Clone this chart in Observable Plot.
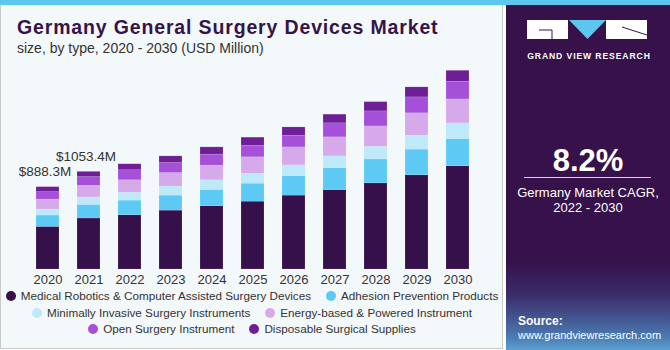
<!DOCTYPE html>
<html>
<head>
<meta charset="utf-8">
<script src="https://cdn.jsdelivr.net/npm/d3@7"></script>
<script src="https://cdn.jsdelivr.net/npm/@observablehq/plot@0.6"></script>
<style>
  body { margin:0; width:670px; height:350px; overflow:hidden; background:#fff; font-family:"Liberation Sans", Arial, sans-serif; position:relative; }
  #left { position:absolute; left:0; top:0; width:501px; height:348px; background:#f3f8fb; border:1px solid #c9c9c9; border-top:none; }
  #strip { position:absolute; left:0; top:0; width:670px; height:5px; background:#5dc6ef; }
  #title { position:absolute; left:17px; top:16px; font-size:19.5px; letter-spacing:0.85px; font-weight:bold; color:#36134a; white-space:nowrap; }
  #subtitle { position:absolute; left:17px; top:40px; font-size:14px; color:#333; white-space:nowrap; }
  #chart { position:absolute; left:0; top:60px; }
  #legend { position:absolute; left:-8px; top:289px; width:520px; display:flex; flex-wrap:wrap; justify-content:center; column-gap:15px; row-gap:2.5px; font-size:11.7px; color:#333; line-height:14px; }
  .item { display:flex; align-items:center; white-space:nowrap; }
  .dot { width:10px; height:10px; border-radius:50%; margin-right:5px; display:inline-block; }
  #right { position:absolute; left:506px; top:5px; width:164px; height:345px; background:linear-gradient(to bottom,#36114a 0%,#36114a 74%,#3b2b6a 84%,#4a78b0 96%,#5aa0d0 100%); color:#fff; }
  #cagr { position:absolute; left:0; width:164px; top:138px; text-align:center; font-size:31px; font-weight:bold; }
  #rule { position:absolute; left:18px; width:127px; top:172px; height:1px; background:#d8cfe0; }
  #cagrtxt { position:absolute; left:0; width:164px; top:180px; text-align:center; font-size:13px; line-height:15px; }
  #source { position:absolute; left:12px; top:309px; font-size:11px; line-height:14px; }
  #source b { font-size:12px; }
  #gvr { position:absolute; left:21px; top:46px; width:124px; text-align:center; font-size:8.6px; font-weight:bold; letter-spacing:0.9px; }
</style>
</head>
<body>
<div id="left"></div>
<div id="strip"></div>
<div id="title">Germany General Surgery Devices Market</div>
<div id="subtitle">size, by type, 2020 - 2030 (USD Million)</div>
<div id="chart"></div>
<div id="legend"></div>
<div id="right">
  <svg width="164" height="40" style="position:absolute;left:0;top:0">
    <rect x="21" y="15" width="41" height="19" fill="#fff"/>
    <path d="M33 25 H46 V34" stroke="#36114a" stroke-width="1" fill="none"/>
    <polygon points="63,15 100,15 81.5,34" fill="#5dc6ef"/>
    <rect x="100" y="15" width="41" height="19" fill="#fff"/>
    <path d="M116 22 L141 30" stroke="#36114a" stroke-width="1" fill="none"/>
  </svg>
  <div id="gvr">GRAND VIEW RESEARCH</div>
  <div id="cagr">8.2%</div>
  <div id="rule"></div>
  <div id="cagrtxt">Germany Market CAGR,<br>2022 - 2030</div>
  <div id="source"><b>Source:</b><br>www.grandviewresearch.com</div>
</div>
<script>
const years = ["2020","2021","2022","2023","2024","2025","2026","2027","2028","2029","2030"];
const seriesNames = [
  "Medical Robotics & Computer Assisted Surgery Devices",
  "Adhesion Prevention Products",
  "Minimally Invasive Surgery Instruments",
  "Energy-based & Powered Instrument",
  "Open Surgery Instrument",
  "Disposable Surgical Supplies"
];
const seriesColors = ["#36104a","#5ccaf5","#bde9f9","#d6a9ea","#a64fd8","#6e1f96"];
const robotics   = [460, 550, 585, 635, 682, 732, 797, 857, 929, 1016, 1113];
const adhesion   = [122, 147, 158, 162, 176, 194, 211, 237, 258, 277, 294];
const minimally  = [65, 80, 86, 97, 104, 108, 115, 126, 137, 151, 169];
const energy     = [108, 125, 133, 146, 158, 176, 194, 205, 219, 240, 258];
const openSurg   = [79, 94, 108, 108, 118, 123, 126, 151, 162, 172, 191];
const disposable = [54, 57, 65, 72, 79, 89, 89, 94, 100, 108, 118];
const labelYears = ["2020","2021"];
const labelTexts = ["$888.3M","$1053.4M"];

const seriesValues = [robotics, adhesion, minimally, energy, openSurg, disposable];
const rows = [];
seriesNames.forEach((name, si) => {
  years.forEach((yr, i) => rows.push({year: yr, type: name, value: seriesValues[si][i]}));
});
const totals = years.map((yr, i) => seriesValues.reduce((s, arr) => s + arr[i], 0));
const labels = labelYears.map((yr, k) => ({year: yr, total: totals[years.indexOf(yr)], text: labelTexts[k]}));

const chart = Plot.plot({
  width: 500,
  height: 230,
  marginLeft: 13,
  marginRight: 7,
  marginTop: 5,
  marginBottom: 21,
  style: {background: "transparent", fontFamily: "'Liberation Sans', Arial, sans-serif", fontSize: "13px", color: "#333"},
  x: {domain: years, padding: 0.43, label: null, tickSize: 0, tickPadding: 5},
  y: {domain: [0, 2200], axis: null},
  color: {domain: seriesNames, range: seriesColors},
  marks: [
    Plot.barY(rows, {x: "year", y: "value", fill: "type", order: seriesNames, stroke: "#ffffff", strokeOpacity: 0.25, strokeWidth: 0.5}),
    Plot.text(labels, {x: "year", y: "total", text: "text", dy: -15, dx: -3, fontSize: 13.5, fill: "#333"})
  ]
});
document.getElementById("chart").appendChild(chart);

const legend = document.getElementById("legend");
seriesNames.forEach((name, i) => {
  const item = document.createElement("div");
  item.className = "item";
  const dot = document.createElement("span");
  dot.className = "dot";
  dot.style.background = seriesColors[i];
  item.appendChild(dot);
  item.appendChild(document.createTextNode(name));
  legend.appendChild(item);
});
</script>
</body>
</html>
